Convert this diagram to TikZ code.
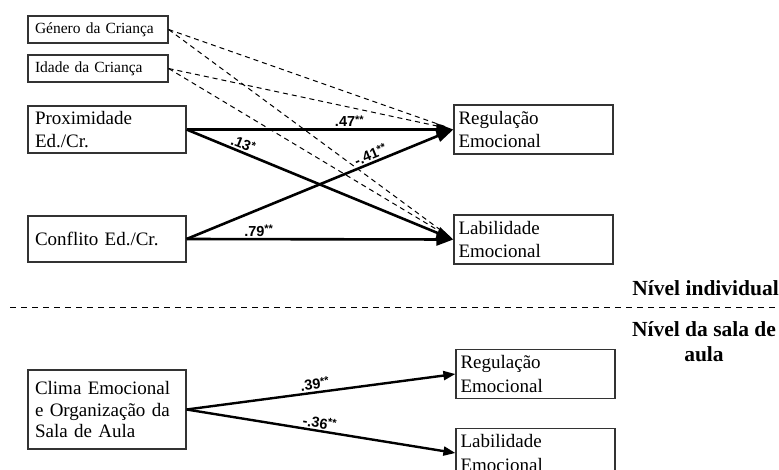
\documentclass[tikz,border=0pt]{standalone}
\usepackage{fontspec}
\setmainfont{Liberation Serif}
\newfontfamily\arialf{Liberation Sans}
\usetikzlibrary{arrows.meta}
\newcommand{\sigstars}[1]{\raisebox{3.5pt}{\fontsize{11}{11}\selectfont #1}}
\begin{document}
\begin{tikzpicture}[x=1pt,y=1pt,
  smallbox/.style={draw=black!80, line width=1.2pt, minimum width=140pt, minimum height=27pt, inner sep=0pt, text width=126pt, align=left, font=\fontsize{15.5}{18}\selectfont},
  varbox/.style={draw=black!80, line width=1.2pt, minimum width=158pt, inner sep=0pt, text width=144pt, align=left, font=\fontsize{19}{23.5}\selectfont},
  outbox/.style={draw=black!80, line width=1.2pt, minimum width=159pt, minimum height=49pt, inner sep=0pt, text width=150pt, align=left, font=\fontsize{19}{23.5}\selectfont},
  patharrow/.style={line width=2.6pt, -{Triangle[length=17pt,width=12pt]}},
  patharrowb/.style={line width=2.4pt, -{Triangle[length=12pt,width=9pt]}},
  ctrlline/.style={dashed, line width=1pt, dash pattern=on 5pt off 4pt, shorten >=7pt},
  coef/.style={font=\arialf\bfseries\fontsize{14.5}{14.5}\selectfont, inner sep=1.5pt},
  level/.style={font=\bfseries\fontsize{21.5}{25}\selectfont, align=center, inner sep=0pt}
]
\clip (0,0) rectangle (779,-469);
\fill[white] (0,0) rectangle (779,-469);

% top level boxes
\node[smallbox] (gen) at (98,-29.5) {Género da Criança};
\node[smallbox] (ida) at (98,-68.5) {Idade da Criança};
\node[varbox, minimum height=47pt] (prox) at (107,-129.5) {Proximidade\\Ed./Cr.};
\node[varbox, minimum height=46pt] (conf) at (107,-239) {Conflito Ed./Cr.};
\node[outbox] (reg) at (533.5,-129.5) {Regulação\\Emocional};
\node[outbox] (lab) at (533.5,-239.5) {Labilidade\\Emocional};

% control (dashed) paths
\draw[ctrlline] (gen.east) -- (reg.west);
\draw[ctrlline] (gen.east) -- (lab.west);
\draw[ctrlline] (ida.east) -- (reg.west);
\draw[ctrlline] (ida.east) -- (lab.west);

% main paths
\draw[patharrow] (prox.east) -- node[coef, pos=0.61, above] {.47\sigstars{**}} (reg.west);
\draw[patharrow] (prox.east) -- node[coef, pos=0.2, sloped, above] {.13\sigstars{*}} (lab.west);
\draw[patharrow] (conf.east) -- node[coef, pos=0.7, sloped, above] {-.41\sigstars{**}} (reg.west);
\draw[patharrow] (conf.east) -- node[coef, pos=0.27, above] {.79\sigstars{**}} (lab.west);

% level separator
\coordinate (sepL) at (10,-307);
\coordinate (sepR) at (779,-307);
\draw[dashed, line width=1pt, dash pattern=on 6pt off 5pt] (sepL) -- (sepR);
\node[level, anchor=east] (lvind) at (779,-288) {Nível individual};
\node[level] (lvsala) at (704,-342) {Nível da sala de\\aula};

% classroom level
\node[varbox, minimum height=79pt, font=\fontsize{19}{21.5}\selectfont] (clima) at (107,-409.5) {Clima Emocional\\e Organização da\\Sala de Aula};
\node[outbox] (regb) at (535.5,-374) {Regulação\\Emocional};
\node[outbox] (labb) at (535.5,-453) {Labilidade\\Emocional};

\draw[patharrowb] (clima.east) -- node[coef, pos=0.48, sloped, above] {.39\sigstars{**}} (regb.west);
\draw[patharrowb] (clima.east) -- node[coef, pos=0.49, sloped, above] {-.36\sigstars{**}} (labb.west);
\end{tikzpicture}
\end{document}
